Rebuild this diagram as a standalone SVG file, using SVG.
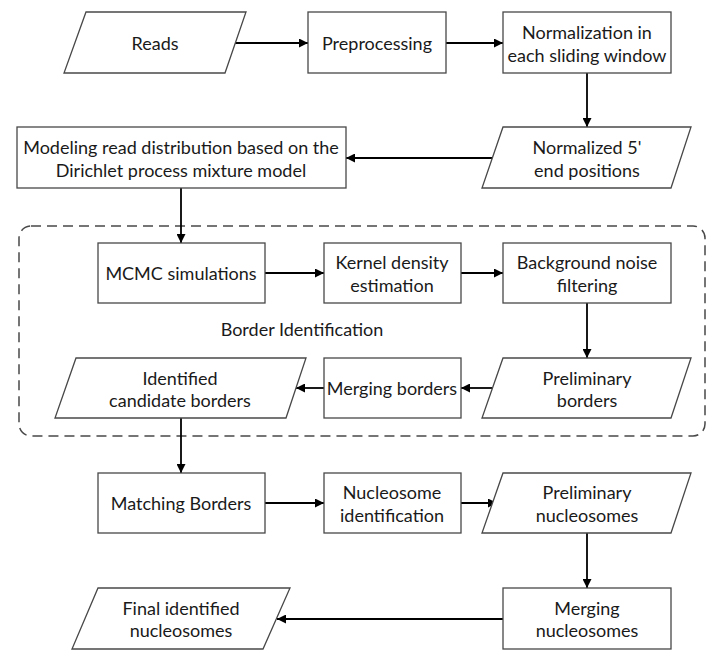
<svg xmlns="http://www.w3.org/2000/svg" width="720" height="662" viewBox="0 0 720 662">
<defs>
<marker id="ah" viewBox="0 0 10 10" refX="10" refY="5" markerWidth="9" markerHeight="9" markerUnits="userSpaceOnUse" orient="auto">
<path d="M0,0 L10,5 L0,10 z" fill="#000"/>
</marker>
<style>
.box{fill:#fff;stroke:#484848;stroke-width:1.3}
.t{font-family:Lato,"Open Sans","Liberation Sans",sans-serif;font-size:18px;fill:#1a1a1a;text-anchor:middle;dominant-baseline:central}
.c{fill:none;stroke:#000;stroke-width:1.8;marker-end:url(#ah)}
.dash{fill:none;stroke:#484848;stroke-width:1.5;stroke-dasharray:10,6}
</style>
</defs>
<rect width="720" height="662" fill="#fff"/>
<g id="border-identification">
<rect class="dash" x="19" y="226" width="686" height="210" rx="12" ry="12"/>
<text class="t" x="302" y="329">Border Identification</text>
</g>
<g id="connectors">
<line class="c" x1="235" y1="43" x2="308" y2="43"/>
<line class="c" x1="446" y1="43" x2="503" y2="43"/>
<line class="c" x1="587" y1="73" x2="587" y2="127"/>
<line class="c" x1="492" y1="158" x2="346" y2="158"/>
<line class="c" x1="181" y1="188" x2="181" y2="243"/>
<line class="c" x1="265" y1="273" x2="324" y2="273"/>
<line class="c" x1="461" y1="273" x2="503" y2="273"/>
<line class="c" x1="587" y1="303" x2="587" y2="358"/>
<line class="c" x1="492" y1="388" x2="461" y2="388"/>
<line class="c" x1="324" y1="388" x2="296" y2="388"/>
<line class="c" x1="181" y1="418" x2="181" y2="473"/>
<line class="c" x1="265" y1="503" x2="324" y2="503"/>
<line class="c" x1="461" y1="503" x2="497" y2="503"/>
<line class="c" x1="587" y1="533" x2="587" y2="588"/>
<line class="c" x1="503" y1="619" x2="277" y2="619"/>
</g>
<g id="reads">
<polygon class="box" points="86,12 246,12 225,73 64,73"/>
<text class="t" x="155" y="43">Reads</text>
</g>
<g id="preprocessing">
<rect class="box" x="308" y="12" width="138" height="61"/>
<text class="t" x="377" y="43">Preprocessing</text>
</g>
<g id="normalization">
<rect class="box" x="503" y="12" width="168" height="61"/>
<text class="t" x="587" y="32">Normalization in</text>
<text class="t" x="587" y="55">each sliding window</text>
</g>
<g id="normalized-positions">
<polygon class="box" points="503,127 691,127 671,188 482,188"/>
<text class="t" x="587" y="147">Normalized 5'</text>
<text class="t" x="587" y="170">end positions</text>
</g>
<g id="modeling">
<rect class="box" x="17" y="127" width="329" height="61"/>
<text class="t" x="181" y="147">Modeling read distribution based on the</text>
<text class="t" x="181" y="170">Dirichlet process mixture model</text>
</g>
<g id="mcmc">
<rect class="box" x="98" y="243" width="167" height="60"/>
<text class="t" x="181" y="273">MCMC simulations</text>
</g>
<g id="kernel">
<rect class="box" x="324" y="243" width="137" height="60"/>
<text class="t" x="392" y="262">Kernel density</text>
<text class="t" x="392" y="285">estimation</text>
</g>
<g id="background">
<rect class="box" x="503" y="243" width="168" height="60"/>
<text class="t" x="587" y="262">Background noise</text>
<text class="t" x="587" y="285">filtering</text>
</g>
<g id="preliminary-borders">
<polygon class="box" points="503,358 691,358 671,418 482,418"/>
<text class="t" x="587" y="378">Preliminary</text>
<text class="t" x="587" y="400">borders</text>
</g>
<g id="merging-borders">
<rect class="box" x="324" y="358" width="137" height="60"/>
<text class="t" x="392" y="388">Merging borders</text>
</g>
<g id="identified-borders">
<polygon class="box" points="76,358 306,358 286,418 55,418"/>
<text class="t" x="180" y="378">Identified</text>
<text class="t" x="180" y="400">candidate borders</text>
</g>
<g id="matching-borders">
<rect class="box" x="98" y="473" width="167" height="60"/>
<text class="t" x="181" y="503">Matching Borders</text>
</g>
<g id="nucleosome-identification">
<rect class="box" x="324" y="473" width="137" height="60"/>
<text class="t" x="392" y="492">Nucleosome</text>
<text class="t" x="392" y="515">identification</text>
</g>
<g id="preliminary-nucleosomes">
<polygon class="box" points="503,473 691,473 671,533 482,533"/>
<text class="t" x="587" y="492">Preliminary</text>
<text class="t" x="587" y="515">nucleosomes</text>
</g>
<g id="merging-nucleosomes">
<rect class="box" x="503" y="588" width="168" height="61"/>
<text class="t" x="587" y="608">Merging</text>
<text class="t" x="587" y="630">nucleosomes</text>
</g>
<g id="final-nucleosomes">
<polygon class="box" points="98,588 290,588 263,649 72,649"/>
<text class="t" x="181" y="608">Final identified</text>
<text class="t" x="181" y="630">nucleosomes</text>
</g>
</svg>
